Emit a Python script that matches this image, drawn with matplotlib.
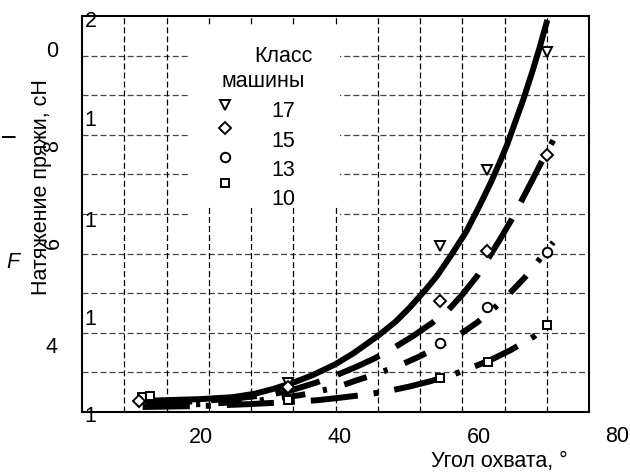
import numpy as np
import matplotlib
matplotlib.use("Agg")
import matplotlib.pyplot as plt
from matplotlib.patches import Rectangle

plt.rcParams['font.family'] = ['Liberation Sans', 'DejaVu Sans']
plt.rcParams['lines.scale_dashes'] = False

# ---------------- data ----------------
classes = ['17', '15', '13', '10']
angle = [11.0, 32.6, 54.5, 61.2, 69.9]
tension_17 = [np.nan, 12.59, 15.35, 16.89, 19.27]
tension_15 = [12.22, 12.51, 14.24, 15.25, 17.19]
tension_13 = [np.nan, np.nan, 13.39, 14.12, 15.23]
angle_10 = [11.5, 12.7, 32.5, 54.4, 61.3, 69.8]
tension_10 = [12.30, 12.32, 12.24, 12.69, 13.01, 13.76]

fit17_x = [10.95, 15.1, 19.9, 24.6, 27.8, 30.5, 33.6, 36.0, 39.3, 42.0, 45.5, 48.0, 50.0,
           52.3, 54.0, 56.0, 58.2, 60.0, 61.7, 63.0, 64.1, 65.3, 66.4, 67.7, 68.8, 69.9]
fit17_y = [12.22, 12.24, 12.26, 12.30, 12.37, 12.47, 12.61, 12.74, 12.96, 13.19, 13.54, 13.82, 14.10,
           14.46, 14.75, 15.16, 15.64, 16.13, 16.62, 17.03, 17.40, 17.87, 18.30, 18.86, 19.37, 19.92]
fit15_x = [10.95, 19.9, 26.0, 30.4, 33.5, 36.5, 39.6, 42.5, 45.1, 47.7, 50.5, 53.3, 55.5, 57.7,
           59.8, 61.2, 63.0, 64.8, 66.0, 67.6, 69.2, 70.75]
fit15_y = [12.16, 12.22, 12.29, 12.36, 12.46, 12.59, 12.75, 12.92, 13.09, 13.29, 13.53, 13.80, 14.04, 14.38,
           14.75, 15.06, 15.47, 15.90, 16.22, 16.65, 17.09, 17.49]
fit13_x = [10.95, 19.9, 27.8, 34.3, 39.6, 42.2, 45.5, 48.4, 51.3, 54.1, 56.9, 59.8, 62.1, 64.3,
           66.6, 68.3, 70.75]
fit13_y = [12.12, 12.16, 12.22, 12.34, 12.50, 12.63, 12.78, 12.93, 13.11, 13.31, 13.53, 13.81, 14.08, 14.37,
           14.71, 15.00, 15.43]
fit10_x = [10.95, 19.9, 27.1, 33.9, 36.9, 40.1, 43.7, 46.8, 49.9, 53.0, 56.2, 59.2, 61.7, 64.6,
           67.9, 70.3]
fit10_y = [12.10, 12.12, 12.16, 12.21, 12.24, 12.29, 12.35, 12.42, 12.51, 12.62, 12.75, 12.91, 13.05, 13.25,
           13.52, 13.80]

x_ticks = [20, 40, 60]
x_extra_tick = 80
xlim = (2.85, 75.9)
ylim = (12.0, 20.0)

ylabel = 'Натяжение пряжи, сН'
xlabel = 'Угол охвата, °'
legend_title1 = 'Класс'
legend_title2 = 'машины'

# ---------------- figure ----------------
W, H = 630, 473
fig = plt.figure(figsize=(W / 100, H / 100), dpi=100)
L, R, T, B = 82, 589, 16, 412
ax = fig.add_axes([L / W, (H - B) / H, (R - L) / W, (B - T) / H])
ax.set_xlim(*xlim)
ax.set_ylim(*ylim)

def fx(px):
    return px / W

def fy(py):
    return 1 - py / H

def axx(px):
    return (px - L) / (R - L)

def axy(py):
    return (B - py) / (B - T)

FS = 15.5

# grid (12 x 10 cells, independent from labels)
ax.set_xticks(np.linspace(*xlim, 13)[1:-1], minor=True)
ax.set_yticks(np.linspace(*ylim, 11)[1:-1], minor=True)
ax.set_xticks(x_ticks)
ax.set_xticklabels([str(v) for v in x_ticks], fontsize=FS)
ax.set_yticks([])
ax.tick_params(which='both', length=0)
ax.tick_params(axis='x', which='major', pad=11)
ax.set_axisbelow(True)
ax.grid(False)
ax.grid(which='minor', axis='x', color='black', lw=0.9, ls=(0, (4.3, 2.2)))
ax.grid(which='minor', axis='y', color='#444444', lw=0.9, ls=(0, (4.3, 2.2)))
ax.xaxis.set_zorder(1.1)
ax.text(x_extra_tick, axy(436), str(x_extra_tick), transform=ax.get_xaxis_transform(),
        ha='center', va='center', fontsize=FS, clip_on=False)

for s in ax.spines.values():
    s.set_linewidth(1.5)

# fitted curves (drawn from right end)
LW = 4.3
ax.plot(fit17_x[::-1], fit17_y[::-1], color='black', lw=LW, ls='-', solid_capstyle='butt',
        solid_joinstyle='round', zorder=2)
ax.plot(fit15_x[::-1], fit15_y[::-1], color='black', lw=LW, ls=(29.5, (33, 13.7)), zorder=2)
ax.plot(fit13_x[::-1], fit13_y[::-1], color='black', lw=LW, ls=(15, (17, 13, 3, 13)), zorder=2)
ax.plot(fit10_x[::-1], fit10_y[::-1], color='black', lw=LW, ls=(31.7, (34, 11.5, 3.6, 11.5)), zorder=2)

# measured points
MEW = 1.4
mk = dict(ls='none', mfc='white', mec='black', mew=MEW, clip_on=False)
SZ = {'v': 7.5, 'D': 6.0, 'o': 6.8, 's': 6.4}
ax.plot(angle, tension_13, marker='o', ms=SZ['o'], zorder=3, **mk)
ax.plot(angle_10, tension_10, marker='s', ms=SZ['s'], zorder=3.1, **mk)
ax.plot(angle, tension_17, marker='v', ms=SZ['v'], zorder=3.2, **mk)
ax.plot(angle, tension_15, marker='D', ms=SZ['D'], zorder=3.3, **mk)

# legend (manual, white box covering the grid)
ax.add_patch(Rectangle((axx(188), axy(205)), axx(340) - axx(188), axy(25) - axy(205),
                       transform=ax.transAxes, facecolor='white', edgecolor='none', zorder=1.2))
ax.add_patch(Rectangle((axx(188), axy(217)), axx(340) - axx(188), axy(205) - axy(217),
                       transform=ax.transAxes, facecolor='white', edgecolor='none', zorder=1.0))
ax.text(axx(283), axy(62), legend_title1, transform=ax.transAxes, ha='center', va='baseline',
        fontsize=FS, zorder=5)
ax.text(axx(263), axy(87), legend_title2, transform=ax.transAxes, ha='center', va='baseline',
        fontsize=FS, zorder=5)
leg_markers = [('v', 105), ('D', 128), ('o', 157), ('s', 183)]
for m, py in leg_markers:
    ax.plot([axx(225)], [axy(py)], marker=m, ms=SZ[m], transform=ax.transAxes, zorder=4, **mk)
leg_base = [117, 147, 176, 205]
clip = Rectangle((axx(188), axy(203)), axx(340) - axx(188), axy(25) - axy(203),
                 transform=ax.transAxes, facecolor='none', edgecolor='none')
ax.add_patch(clip)
for lab, py in zip(classes, leg_base):
    t = ax.text(axx(283), axy(py), lab, transform=ax.transAxes, ha='center', va='baseline',
                fontsize=FS, zorder=5)
    t.set_clip_path(clip)

# axis labels
ax.set_ylabel(ylabel, fontsize=FS, va='center')
ax.yaxis.set_label_coords(axx(42), axy(187))
ax.set_xlabel(xlabel, fontsize=FS, va='center')
ax.xaxis.set_label_coords(axx(499), axy(461))

# stray fragments of the original y scale
frags = [('2', 91, 27), ('0', 52, 57), ('1', 90, 126), ('1', 90, 227),
         ('1', 90, 325), ('4', 52, 353), ('1', 90, 422)]
for s, px, py in frags:
    fig.text(fx(px), fy(py), s, ha='center', va='baseline', fontsize=FS)
fig.text(fx(53), fy(146), '8', ha='center', va='center', rotation=90, fontsize=FS)
fig.text(fx(53), fy(243), '6', ha='center', va='center', rotation=90, fontsize=FS)
fig.text(fx(8), fy(137), '—', ha='center', va='center', fontsize=11, fontweight='bold',
         rotation=0, family='DejaVu Sans')
fig.text(fx(12.5), fy(268), 'F', ha='center', va='baseline', fontsize=FS, style='italic')

fig.savefig('out.png', dpi=100)
